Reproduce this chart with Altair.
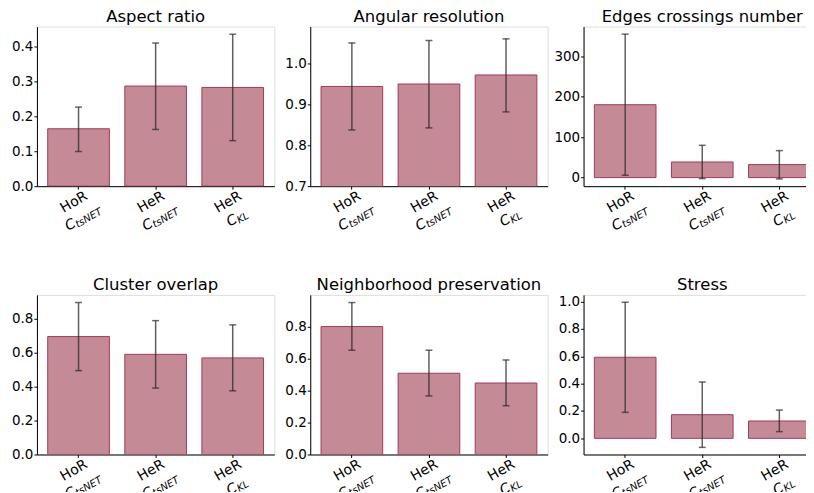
import altair as alt
import pandas as pd

categories = ["HoR_tsNET", "HeR_tsNET", "HeR_KL"]
line1 = ["HoR", "HeR", "HeR"]
subs = ["tsNET", "tsNET", "KL"]

titles = ["Aspect ratio", "Angular resolution", "Edges crossings number",
          "Cluster overlap", "Neighborhood preservation", "Stress"]

means = {
    "Aspect ratio": [0.164, 0.286, 0.282],
    "Angular resolution": [0.943, 0.949, 0.971],
    "Edges crossings number": [180.5, 38.7, 32.2],
    "Cluster overlap": [0.696, 0.591, 0.570],
    "Neighborhood preservation": [0.800, 0.508, 0.447],
    "Stress": [0.593, 0.173, 0.127],
}
lows = {
    "Aspect ratio": [0.099, 0.162, 0.130],
    "Angular resolution": [0.837, 0.842, 0.881],
    "Edges crossings number": [5.8, -2.5, -3.3],
    "Cluster overlap": [0.495, 0.392, 0.376],
    "Neighborhood preservation": [0.652, 0.366, 0.305],
    "Stress": [0.190, -0.066, 0.049],
}
highs = {
    "Aspect ratio": [0.226, 0.409, 0.434],
    "Angular resolution": [1.049, 1.055, 1.059],
    "Edges crossings number": [355.3, 80.0, 66.8],
    "Cluster overlap": [0.897, 0.790, 0.765],
    "Neighborhood preservation": [0.950, 0.652, 0.591],
    "Stress": [0.995, 0.412, 0.207],
}
domains = {
    "Aspect ratio": [0, 0.456],
    "Angular resolution": [0.7, 1.089],
    "Edges crossings number": [-21.2, 374],
    "Cluster overlap": [0, 0.942],
    "Neighborhood preservation": [0, 0.998],
    "Stress": [-0.118, 1.049],
}
tick_values = {
    "Aspect ratio": [0.0, 0.1, 0.2, 0.3, 0.4],
    "Angular resolution": [0.7, 0.8, 0.9, 1.0],
    "Edges crossings number": [0, 100, 200, 300],
    "Cluster overlap": [0.0, 0.2, 0.4, 0.6, 0.8],
    "Neighborhood preservation": [0.0, 0.2, 0.4, 0.6, 0.8],
    "Stress": [0.0, 0.2, 0.4, 0.6, 0.8, 1.0],
}
tick_formats = {
    "Aspect ratio": ".1f",
    "Angular resolution": ".1f",
    "Edges crossings number": "d",
    "Cluster overlap": ".1f",
    "Neighborhood preservation": ".1f",
    "Stress": ".1f",
}

FONT = "DejaVu Sans"
BAR_FILL = "#c48a96"
BAR_EDGE = "#a3395c"
ERR_COLOR = "#2b2b2b"
W, H = 238, 160
LABEL_Y = H + 24
LABEL_SIZE = 14
SUB_SIZE = 10
# split offset of "C" / subscript in line 2 so the line is centred
split = {"tsNET": -9.6, "KL": -1.2}


def panel(name):
    df = pd.DataFrame({
        "cat": categories, "line1": line1, "subs": subs,
        "mean": means[name], "lo": lows[name], "hi": highs[name],
    })
    base = alt.Chart(df).encode(
        x=alt.X("cat:N", sort=categories,
                scale=alt.Scale(paddingInner=0.2, paddingOuter=0.14),
                axis=alt.Axis(labels=False, ticks=True, tickSize=3,
                              tickColor="black", domainColor="black",
                              title=None, grid=False))
    )
    yscale = alt.Scale(domain=domains[name], nice=False, zero=False)
    yaxis = alt.Axis(values=tick_values[name], format=tick_formats[name],
                     title=None, grid=False, tickSize=3, labelPadding=1,
                     labelFontSize=13.5, labelFont=FONT, labelColor="black",
                     tickColor="black", domainColor="black",
                     minExtent=28, maxExtent=28)
    bars = base.mark_bar(fill=BAR_FILL, stroke=BAR_EDGE, strokeWidth=1,
                         clip=True).encode(
        y=alt.Y("mean:Q", scale=yscale, axis=yaxis), y2=alt.datum(0))
    err = base.mark_rule(color=ERR_COLOR, strokeWidth=1.5, opacity=0.75).encode(
        y=alt.Y("lo:Q", scale=yscale, axis=yaxis), y2="hi:Q")
    cap_lo = base.mark_tick(size=7, thickness=1.5, color=ERR_COLOR).encode(
        y=alt.Y("lo:Q", scale=yscale, axis=yaxis))
    cap_hi = base.mark_tick(size=7, thickness=1.5, color=ERR_COLOR).encode(
        y=alt.Y("hi:Q", scale=yscale, axis=yaxis))
    l1 = base.mark_text(angle=330, align="center", baseline="middle",
                        dy=-9, fontSize=LABEL_SIZE, font=FONT,
                        color="black").encode(text="line1:N",
                                              y=alt.value(LABEL_Y))
    layers = [bars, err, cap_lo, cap_hi, l1]
    for sname, s in split.items():
        sub_base = base.transform_filter(alt.datum.subs == sname)
        c = sub_base.mark_text(angle=330, align="right", baseline="middle",
                               dx=s, dy=9, fontSize=LABEL_SIZE, font=FONT,
                               fontStyle="italic", color="black").encode(
            text=alt.value("C"), y=alt.value(LABEL_Y))
        sb = sub_base.mark_text(angle=330, align="left", baseline="middle",
                                dx=s, dy=12, fontSize=SUB_SIZE, font=FONT,
                                fontStyle="italic", color="black").encode(
            text="subs:N", y=alt.value(LABEL_Y))
        layers += [c, sb]
    return alt.layer(*layers).properties(
        width=W, height=H,
        title=alt.TitleParams(text=name, fontSize=16.5, font=FONT,
                              fontWeight="normal", color="black", offset=1,
                              anchor="middle", frame="group"))


chart = alt.concat(*[panel(t) for t in titles], columns=3,
                   spacing={"row": 109, "column": 36}, bounds="flush")
chart = chart.resolve_scale(x="independent", y="independent").properties(
    padding={"left": 0, "top": 0, "right": -16, "bottom": -12}
).configure_view(stroke="black", strokeWidth=1).configure(font=FONT)

chart.save("out.html", embed_options={"renderer": "svg", "actions": False})
